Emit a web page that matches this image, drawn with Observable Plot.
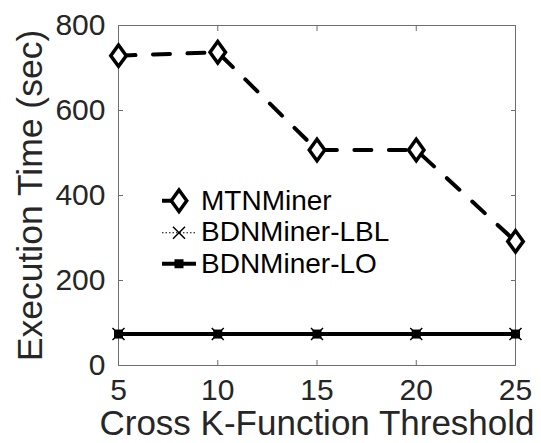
<!DOCTYPE html>
<html><head><meta charset="utf-8">
<script src="https://cdn.jsdelivr.net/npm/d3@7"></script>
<script src="https://cdn.jsdelivr.net/npm/@observablehq/plot@0.6"></script>
<style>
html,body{margin:0;padding:0;background:#fff;}
#wrap{position:relative;width:541px;height:443px;font-family:"Liberation Sans",Arial,Helvetica,sans-serif;}
#legend{position:absolute;left:162px;top:185px;}
.row{display:flex;align-items:center;height:31.5px;}
.row svg{display:block;flex:none;}
.row span{font-size:28px;line-height:1;margin-left:5px;color:#000;white-space:nowrap;}
</style></head><body><div id="wrap"><div id="legend"></div></div>
<script>
const thresholds = [5, 10, 15, 20, 25];
const mtnMiner = [729, 737, 507, 507, 292];
const bdnMinerLBL = [74, 74, 74, 74, 74];
const bdnMinerLO = [74, 74, 74, 74, 74];
const xTicks = [5, 10, 15, 20, 25];
const yTicks = [0, 200, 400, 600, 800];
const seriesNames = ["MTNMiner", "BDNMiner-LBL", "BDNMiner-LO"];
const xLabel = "Cross K-Function Threshold";
const yLabel = "Execution Time (sec)";

const rows = thresholds.map((t, i) => ({t, mtn: mtnMiner[i], lbl: bdnMinerLBL[i], lo: bdnMinerLO[i]}));

const diamondSym = {draw(ctx, size) {
  const r = Math.sqrt(size / Math.PI), w = r * 0.86, h = r * 1.19;
  ctx.moveTo(0, -h); ctx.lineTo(w, 0); ctx.lineTo(0, h); ctx.lineTo(-w, 0); ctx.closePath();
}};
const crossSym = {draw(ctx, size) {
  const r = Math.sqrt(size / Math.PI);
  ctx.moveTo(-r, -r); ctx.lineTo(r, r); ctx.moveTo(r, -r); ctx.lineTo(-r, r);
}};
const squareSym = {draw(ctx, size) {
  const r = Math.sqrt(size / Math.PI);
  ctx.rect(-r, -r, 2 * r, 2 * r);
}};

const axisColor = "#6e6e6e";
const textColor = "#262626";

const chart = Plot.plot({
  width: 541, height: 443,
  marginLeft: 118, marginRight: 26, marginTop: 25, marginBottom: 78,
  x: {domain: [5, 25]},
  y: {domain: [0, 800]},
  style: {fontFamily: '"Liberation Sans", Arial, Helvetica, sans-serif', background: "white", color: textColor, overflow: "visible"},
  marks: [
    Plot.frame({stroke: axisColor, strokeWidth: 1}),
    Plot.axisX(xTicks, {anchor: "bottom", tickSize: 5, inset: 5, fill: "none", stroke: axisColor, label: null}),
    Plot.axisX(xTicks, {anchor: "top", tickSize: 5, inset: 5, fill: "none", stroke: axisColor, label: null}),
    Plot.axisY(yTicks, {anchor: "left", tickSize: 5, inset: 5, fill: "none", stroke: axisColor, label: null}),
    Plot.axisY(yTicks, {anchor: "right", tickSize: 5, inset: 5, fill: "none", stroke: axisColor, label: null}),
    Plot.axisX(xTicks, {anchor: "bottom", tickSize: 0, tickPadding: 13, fontSize: 30, fill: textColor, label: null}),
    Plot.axisY(yTicks, {anchor: "left", tickSize: 0, tickPadding: 13, fontSize: 30, fill: textColor, label: null}),
    Plot.line(rows, {x: "t", y: "lo", stroke: "black", strokeWidth: 4}),
    Plot.dot(rows, {x: "t", y: "lo", symbol: squareSym, r: 4.5, fill: "black", stroke: "none"}),
    Plot.line(rows, {x: "t", y: "lbl", stroke: "black", strokeWidth: 1, strokeDasharray: "1.5,2"}),
    Plot.dot(rows, {x: "t", y: "lbl", symbol: crossSym, r: 6, fill: "none", stroke: "black", strokeWidth: 1.5}),
    Plot.line(rows, {x: "t", y: "mtn", stroke: "black", strokeWidth: 4, strokeDasharray: "17,17.5"}),
    Plot.dot(rows, {x: "t", y: "mtn", symbol: diamondSym, r: 9, fill: "white", stroke: "black", strokeWidth: 3.5}),
    Plot.text([yLabel], {frameAnchor: "left", rotate: -90, dx: -87.5, lineAnchor: "middle", textAnchor: "middle", fontSize: 35.5, fill: textColor}),
    Plot.text([xLabel], {frameAnchor: "bottom", dy: 45, lineAnchor: "top", textAnchor: "middle", fontSize: 35, fill: textColor})
  ]
});
document.getElementById("wrap").prepend(chart);

// Legend
const legendSpecs = [
  {name: seriesNames[0], sym: diamondSym, r: 9, fill: "white", stroke: "black", sw: 3.5, lineW: 4, dash: "17,17.5"},
  {name: seriesNames[1], sym: crossSym, r: 6, fill: "none", stroke: "black", sw: 1.5, lineW: 1, dash: "1.5,2"},
  {name: seriesNames[2], sym: squareSym, r: 4.5, fill: "black", stroke: "none", sw: 0, lineW: 4, dash: null}
];
const legend = d3.select("#legend");
for (const s of legendSpecs) {
  const row = legend.append("div").attr("class", "row");
  const svg = row.append("svg").attr("width", 34).attr("height", 31.5).style("overflow", "visible");
  const l = svg.append("line").attr("x1", 0).attr("x2", 34).attr("y1", 15.75).attr("y2", 15.75)
    .attr("stroke", "black").attr("stroke-width", s.lineW);
  if (s.dash) l.attr("stroke-dasharray", s.dash);
  svg.append("path").attr("transform", "translate(17,15.75)")
    .attr("d", d3.symbol(s.sym, s.r * s.r * Math.PI)())
    .attr("fill", s.fill).attr("stroke", s.stroke).attr("stroke-width", s.sw);
  row.append("span").text(s.name);
}
</script></body></html>
